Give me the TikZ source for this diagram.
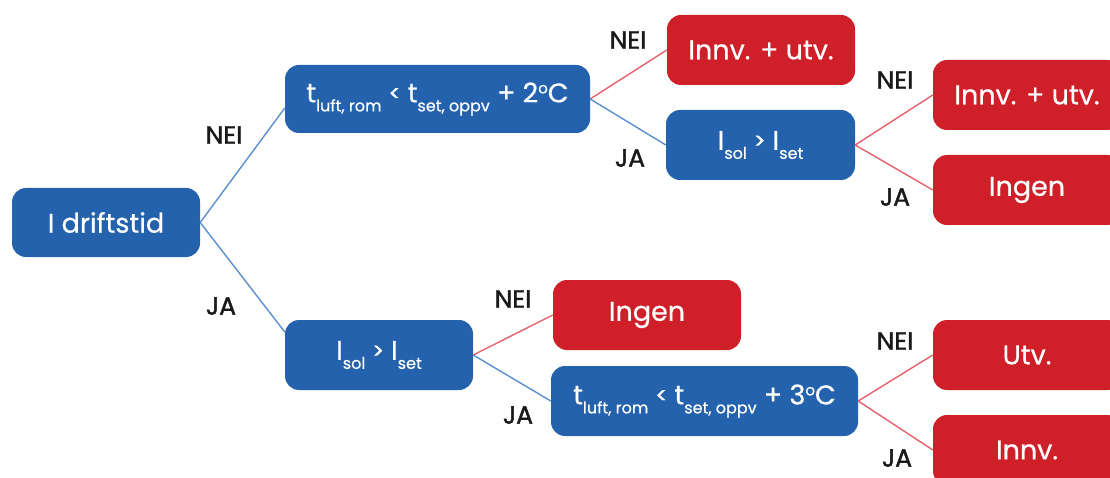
\documentclass[tikz,border=0pt]{standalone}
\usepackage{fontspec}
\setmainfont{Poppins}[FakeBold=0.6]
\newfontfamily\labfont{Poppins}[FakeBold=1.6]
\newfontfamily\ltfont{Poppins}[FakeBold=2]
\definecolor{boxblue}{HTML}{2562AD}
\definecolor{boxred}{HTML}{CF202A}
\definecolor{lineblue}{HTML}{5B8FD0}
\definecolor{linered}{HTML}{E8606B}
\newcommand{\mysb}[1]{\raisebox{-9pt}{\fontsize{16}{16}\selectfont #1}}
\newcommand{\mydeg}{\raisebox{9pt}{\fontsize{15}{15}\selectfont o}}
\newcommand{\mylt}{\raisebox{1.5pt}{\ltfont\fontsize{21}{21}\selectfont <}}
\newcommand{\mygt}{\raisebox{1.5pt}{\ltfont\fontsize{21}{21}\selectfont >}}
\begin{document}
\begin{tikzpicture}[x=1pt,y=-1pt,
  box/.style={rounded corners=14pt, minimum height=69pt, inner sep=0pt, text=white,
    font=\fontsize{27}{30}\selectfont, anchor=center},
  bluebox/.style={box, fill=boxblue},
  redbox/.style={box, fill=boxred},
  bline/.style={draw=lineblue, line width=1.4pt},
  rline/.style={draw=linered, line width=1.4pt},
  lab/.style={font=\labfont\fontsize{25}{27}\selectfont, text=black!90}]
\useasboundingbox (0,0) rectangle (1110,478);
\clip (0,0) rectangle (1110,478);
\fill[white] (0,0) rectangle (1110,478);

\node[bluebox, minimum width=188pt] (root) at (106,222.5) {I driftstid};
\node[bluebox, minimum width=305pt, minimum height=68pt] (t1) at (437.5,99)
  {t\mysb{luft, rom} \mylt{} t\mysb{set, oppv} + 2\mydeg C};
\node[redbox, minimum width=188pt, minimum height=70pt] (innv1) at (761,50) {Innv. + utv.};
\node[bluebox, minimum width=189pt, minimum height=70pt] (isol1) at (760.5,145) {I\mysb{sol} \mygt{} I\mysb{set}};
\node[redbox, minimum width=188pt, minimum height=70pt] (innv2) at (1027,95) {Innv. + utv.};
\node[redbox, minimum width=188pt, minimum height=70pt] (ingen1) at (1027,190) {Ingen};
\node[bluebox, minimum width=188pt, minimum height=70pt] (isol2) at (379,355) {I\mysb{sol} \mygt{} I\mysb{set}};
\node[redbox, minimum width=188pt, minimum height=70pt] (ingen2) at (647,315) {Ingen};
\node[bluebox, minimum width=307pt, minimum height=70pt] (t2) at (704.5,401)
  {t\mysb{luft, rom} \mylt{} t\mysb{set, oppv} + 3\mydeg C};
\node[redbox, minimum width=188pt, minimum height=70pt] (utv) at (1027,355) {Utv.};
\node[redbox, minimum width=188pt, minimum height=70pt] (innv3) at (1027,450) {Innv.};

\draw[bline] (root.east) -- ([yshift=-9pt]t1.west);
\draw[bline] (root.east) -- ([yshift=23pt]isol2.west);
\draw[rline] (t1.east) -- (innv1.west);
\draw[bline] (t1.east) -- (isol1.west);
\draw[rline] (isol1.east) -- (innv2.west);
\draw[rline] (isol1.east) -- (ingen1.west);
\draw[rline] (isol2.east) -- (ingen2.west);
\draw[bline] (isol2.east) -- (t2.west);
\draw[rline] (t2.east) -- (utv.west);
\draw[rline] (t2.east) -- (innv3.west);

\node[lab] (l1) at (224,135) {NEI};
\node[lab] (l2) at (221,306) {JA};
\node[lab] (l3) at (628,40) {NEI};
\node[lab] (l4) at (630,158) {JA};
\node[lab] (l5) at (895,80) {NEI};
\node[lab] (l6) at (895,197) {JA};
\node[lab] (l7) at (513,299) {NEI};
\node[lab] (l8) at (518,415) {JA};
\node[lab] (l9) at (895,341) {NEI};
\node[lab] (l10) at (897,458) {JA};
\end{tikzpicture}
\end{document}
